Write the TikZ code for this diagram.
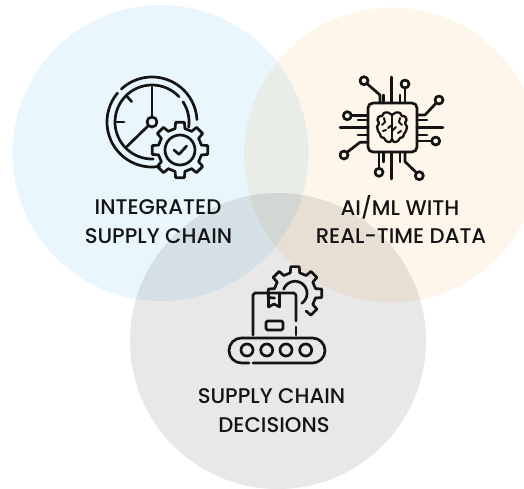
\documentclass[tikz,border=0pt]{standalone}
\usepackage{fontspec}
\usetikzlibrary{calc}
\setmainfont{Poppins Medium}
\definecolor{cblue}{HTML}{EAF6FD}
\definecolor{corange}{HTML}{FEF6EA}
\definecolor{cgrey}{HTML}{E8E8E8}
\definecolor{ink}{HTML}{141414}
\newcommand{\drawgear}[7]{% cx cy rout rin spacing start count
  \foreach \gi in {1,...,#7}{
    \pgfmathsetmacro{\ga}{#6+(\gi-1)*#5}
    \pgfmathsetmacro{\gs}{\ga-13}
    \pgfmathsetmacro{\gt}{\ga-9}
    \pgfmathsetmacro{\gu}{\ga+9}
    \pgfmathsetmacro{\gv}{\ga+13}
    \pgfmathsetmacro{\gw}{\ga+#5-13}
    \draw[icon] ($(#1,#2)+(\gs:#4)$) -- ($(#1,#2)+(\gt:#3)$) -- ($(#1,#2)+(\gu:#3)$) -- ($(#1,#2)+(\gv:#4)$);
    \ifnum\gi<#7\relax
      \draw[icon] ($(#1,#2)+(\gv:#4)$) -- ($(#1,#2)+(\gw:#4)$);
    \fi
  }}
\newcommand{\ringarc}[5]{% cx cy r from to
  \draw[icon] plot[domain=#4:#5,samples=40,variable=\t] ({#1+#3*cos(\t)},{#2+#3*sin(\t)});}
\begin{document}
\begin{tikzpicture}[x=1pt,y=-1pt,
  icon/.style={line width=2.7pt,line cap=round,line join=round,draw=ink},
  lab/.style={font=\fontsize{21.2}{24}\selectfont,text=ink,inner sep=0pt,anchor=center}]
\useasboundingbox (0,0) rectangle (524,488);
\fill[white] (0,0) rectangle (524,488);
% circles
\begin{scope}[blend mode=multiply]
\fill[cblue] (160.5,153) circle (148);
\fill[corange] (391.5,155) circle (147.5);
\fill[cgrey] (278,341) circle (148);
\end{scope}
% clock icon
\ringarc{152}{122}{45}{-133}{-3}
\ringarc{152}{122}{45}{-140}{-280}
\ringarc{152}{122}{37}{-43}{-272}
\ringarc{152}{122}{37}{-33}{8}
\draw[icon] (152,122) circle (5);
\draw[icon] (152,117) -- (152,87);
\draw[icon] (148.5,125.5) -- (126.7,146.7);
\draw[icon] (116.7,122) -- (124,122);
\draw[icon] (127.3,96.7) -- (131.7,101.7);
\drawgear{180}{150}{28}{22}{45}{-90}{8}
\draw[icon] ($(180,150)+(-103:22)$) -- ($(180,150)+(-122:22)$);
\draw[icon] (180,150) circle (15);
\draw[icon] (174,150) -- (179,154.3) -- (186.7,146);
% chip icon
\draw[icon,rounded corners=5pt] (368,103) rectangle (417,152);
\draw[icon] (391.7,77) -- (391.7,103);
\draw[icon] (383.3,95) -- (383.3,103);
\draw[icon] (400,95) -- (400,103);
\draw[icon] (405,88) -- (405,103);
\draw[icon] (405,84) circle (4);
\draw[icon] (364,80.7) circle (4);
\draw[icon] (367,83.7) -- (380,95) -- (380,103);
\draw[icon] (417,127.7) -- (443,127.7);
\draw[icon] (417,120) -- (427,120);
\draw[icon] (417,135) -- (427,135);
\draw[icon] (439,100) circle (4);
\draw[icon] (436.2,103) -- (425,115) -- (417,115);
\draw[icon] (435.7,141) circle (4);
\draw[icon] (431.7,141) -- (417,141);
\draw[icon] (391.7,152) -- (391.7,179);
\draw[icon] (383.3,152) -- (383.3,162);
\draw[icon] (400,152) -- (400,162);
\draw[icon] (379,172.3) circle (4);
\draw[icon] (379,168.3) -- (379,152);
\draw[icon] (419.3,175.7) circle (4);
\draw[icon] (416.5,172.7) -- (405,161.7) -- (405,152);
\draw[icon] (340,127.7) -- (368,127.7);
\draw[icon] (358,120) -- (368,120);
\draw[icon] (358,135) -- (368,135);
\draw[icon] (347.3,115.7) circle (4);
\draw[icon] (351.3,115.7) -- (368,115.7);
\draw[icon] (344,155) circle (4);
\draw[icon] (347,152.3) -- (360,142.3) -- (368,142.3);
% brain
\draw[icon,line width=2.3pt] plot[smooth,tension=.6] coordinates {(392,115) (388,112.5) (384,113) (382,116) (379,116.5) (377.5,120) (379,123) (377,127) (378,131) (380,134) (381,137) (384,138) (386,141) (390,142) (392,139)};
\draw[icon,line width=2.3pt] plot[smooth,tension=.6] coordinates {(392,115) (396,112.5) (400,113) (402,116) (405,116.5) (406.5,120) (405,123) (407,127) (406,131) (404,134) (403,137) (400,138) (398,141) (394,142) (392,139)};
\draw[icon,line width=2pt] (392,115) -- (392,139);
\draw[icon,line width=2pt] (392,125) -- (388,128);
\draw[icon,line width=2pt] (392,131) -- (396,127);
\draw[icon,line width=2pt] (384,118) -- (385,122) -- (382,125);
\draw[icon,line width=2pt] (400,118) -- (399,122) -- (402,125);
\draw[icon,line width=2pt] (383,131) -- (386,130);
\draw[icon,line width=2pt] (401,131) -- (398,133);
% conveyor icon
\draw[icon] (253,363) -- (312.5,363) arc[start angle=90,end angle=-90,radius=12.5] -- (241.5,338) arc[start angle=-90,end angle=-270,radius=12.5] -- (249,363);
\foreach \rx in {247,266.7,286,305.7}{\draw[icon] (\rx,350) circle (6);}
\draw[icon] (253,335) -- (253,295) -- (255,293) -- (294,293) -- (296,295) -- (296,321);
\draw[icon] (296,327) -- (296,335);
\draw[icon] (268.5,293) -- (268.5,307) -- (274,304) -- (279.5,307) -- (279.5,293);
\draw[icon,rounded corners=1.5pt] (266,321) rectangle (283,330);
\drawgear{295}{293.3}{27}{21}{45}{-180}{6}
\ringarc{295}{293.3}{12}{-160}{56}
% labels
\node[lab] (a1) at (158,207) {INTEGRATED};
\node[lab] (a2) at (158.5,236) {SUPPLY CHAIN};
\node[lab] (b1) at (400,207) {AI/ML WITH};
\node[lab] (b2) at (401,236) {REAL-TIME DATA};
\node[lab] (c1) at (271.5,396) {SUPPLY CHAIN};
\node[lab] (c2) at (274,425) {DECISIONS};
\end{tikzpicture}
\end{document}
